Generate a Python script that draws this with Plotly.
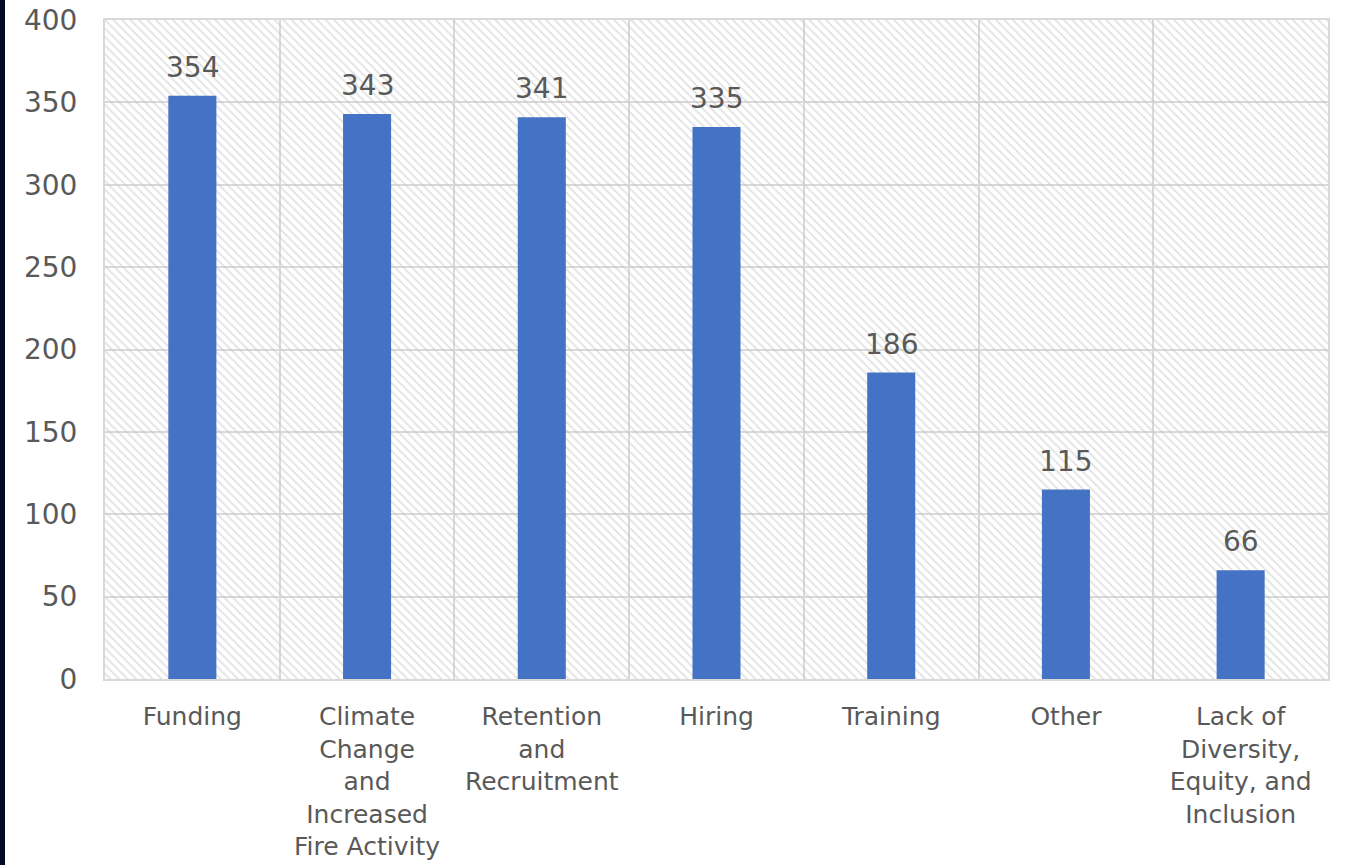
import plotly.graph_objects as go

# Survey responses: top challenges
categories = [
    "Funding",
    "Climate<br>Change<br>and<br>Increased<br>Fire Activity",
    "Retention<br>and<br>Recruitment",
    "Hiring",
    "Training",
    "Other",
    "Lack of<br>Diversity,<br>Equity, and<br>Inclusion",
]
counts = [354, 343, 341, 335, 186, 115, 66]
y_ticks = [0, 50, 100, 150, 200, 250, 300, 350, 400]
y_max = 400

W, H = 1352, 865
M_L, M_R, M_T, M_B = 105, 24, 20, 186
plot_w = W - M_L - M_R
plot_h = H - M_T - M_B

TEXT = "#595959"
GRID = "#d9d9d9"
BAR = "#4472C4"
FONT = "DejaVu Sans"

fig = go.Figure()

# hatched plot background, one full-width cell per category
fig.add_trace(go.Bar(
    x=categories,
    y=[y_max] * len(categories),
    width=1,
    marker=dict(
        color="rgba(0,0,0,0)",
        line=dict(width=0),
        pattern=dict(shape="\\", size=6, solidity=0.3,
                     fgcolor="#c4c4c4", bgcolor="rgba(0,0,0,0)",
                     fillmode="overlay"),
    ),
    hoverinfo="skip",
    showlegend=False,
))

fig.add_trace(go.Bar(
    x=categories,
    y=counts,
    width=0.275,
    marker=dict(color=BAR, line=dict(width=0)),
    hoverinfo="x+y",
    showlegend=False,
))

# value labels above each bar
for cat, val in zip(categories, counts):
    fig.add_annotation(
        x=cat, y=val, text=str(val),
        showarrow=False, yanchor="bottom", yshift=10,
        font=dict(family=FONT, size=28, color=TEXT),
    )

# dark strip on the left edge of the page
fig.add_shape(
    type="rect", xref="paper", yref="paper",
    x0=-M_L / plot_w, x1=(5 - M_L) / plot_w,
    y0=-M_B / plot_h, y1=(plot_h + M_T) / plot_h,
    fillcolor="#020a24", line=dict(width=0), layer="above",
)

fig.update_layout(
    width=W, height=H,
    margin=dict(l=M_L, r=M_R, t=M_T, b=M_B, autoexpand=False),
    paper_bgcolor="white",
    plot_bgcolor="white",
    barmode="overlay",
    font=dict(family=FONT, color=TEXT),
    xaxis=dict(
        type="category",
        tickson="boundaries",
        automargin=False,
        showgrid=True, gridcolor=GRID, gridwidth=2,
        showline=True, linecolor=GRID, linewidth=2, mirror=True,
        ticks="", ticklabelstandoff=14,
        tickfont=dict(family=FONT, size=25, color=TEXT),
        range=[-0.5, len(categories) - 0.5],
        fixedrange=True,
    ),
    yaxis=dict(
        range=[0, y_max],
        tickvals=y_ticks,
        automargin=False,
        showgrid=True, gridcolor=GRID, gridwidth=2,
        showline=True, linecolor=GRID, linewidth=2, mirror=True,
        zeroline=False,
        ticks="", ticklabelstandoff=20,
        tickfont=dict(family=FONT, size=28, color=TEXT),
        fixedrange=True,
    ),
)

fig.write_html("out.html")
